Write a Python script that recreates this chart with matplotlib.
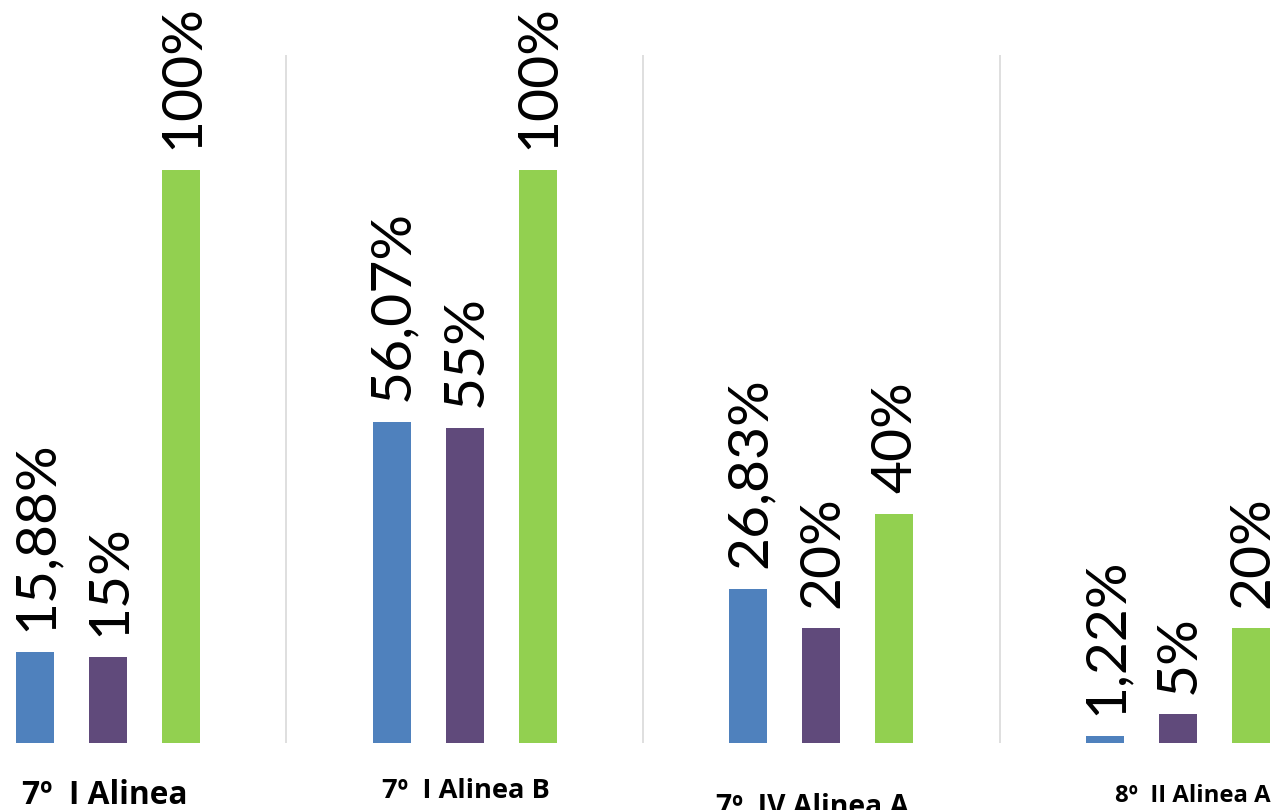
import matplotlib
matplotlib.use("Agg")
import matplotlib.pyplot as plt
import matplotlib.transforms as mtransforms
import numpy as np

categories = ["7º  I Alinea", "7º  I Alinea B", "7º  IV Alinea A", "8º  II Alinea A"]
serie_a = [15.88, 56.07, 26.83, 1.22]
serie_b = [15, 55, 20, 5]
serie_c = [100, 100, 40, 20]
labels_a = ["15,88%", "56,07%", "26,83%", "1,22%"]
labels_b = ["15%", "55%", "20%", "5%"]
labels_c = ["100%", "100%", "40%", "20%"]

colors = ["#4F81BD", "#604A7B", "#92D050"]

W, H = 1280, 810
fig = plt.figure(figsize=(W / 100, H / 100), dpi=100)
base_px = 743
top_px = 55
ax = fig.add_axes([0, 1 - base_px / H, 1, (base_px - top_px) / H])

pxu = 356.7
c0 = 108
ax.set_xlim(-c0 / pxu, (W - c0) / pxu)
ax.set_ylim(0, 120)

x = np.arange(len(categories))
off = 73 / pxu
bw = 38 / pxu

for i, (vals, labs) in enumerate(zip([serie_a, serie_b, serie_c], [labels_a, labels_b, labels_c])):
    xs = x + (i - 1) * off
    ax.bar(xs, vals, width=bw, color=colors[i], zorder=3)
    for xv, v, lab in zip(xs, vals, labs):
        ax.annotate(lab, (xv, v), xytext=(1, 15), textcoords="offset points",
                    rotation=90, ha="center", va="bottom", fontsize=41,
                    family=["Lato", "DejaVu Sans"], color="black",
                    annotation_clip=False, clip_on=False)

for s in [0.5, 1.5, 2.5]:
    ax.axvline(s, color="#D9D9D9", lw=1.2, zorder=1)

for sp in ax.spines.values():
    sp.set_visible(False)
ax.set_xticks([])
ax.set_yticks([])

trans = mtransforms.blended_transform_factory(fig.transFigure, fig.transFigure)
cat_specs = [  # (center x px, baseline y px, fontsize)
    (105, 804, 22.8),
    (466, 798, 19.6),
    (812, 815, 20.3),
    (1193, 802, 17.2),
]
for cat, (cx, ypx, fs) in zip(categories, cat_specs):
    ax.text(cx / W, 1 - ypx / H, cat, transform=trans, ha="center", va="baseline",
            fontsize=fs, fontweight="bold",
            family=["Open Sans", "DejaVu Sans"],
            clip_on=False)

fig.savefig("out.png", dpi=100)
